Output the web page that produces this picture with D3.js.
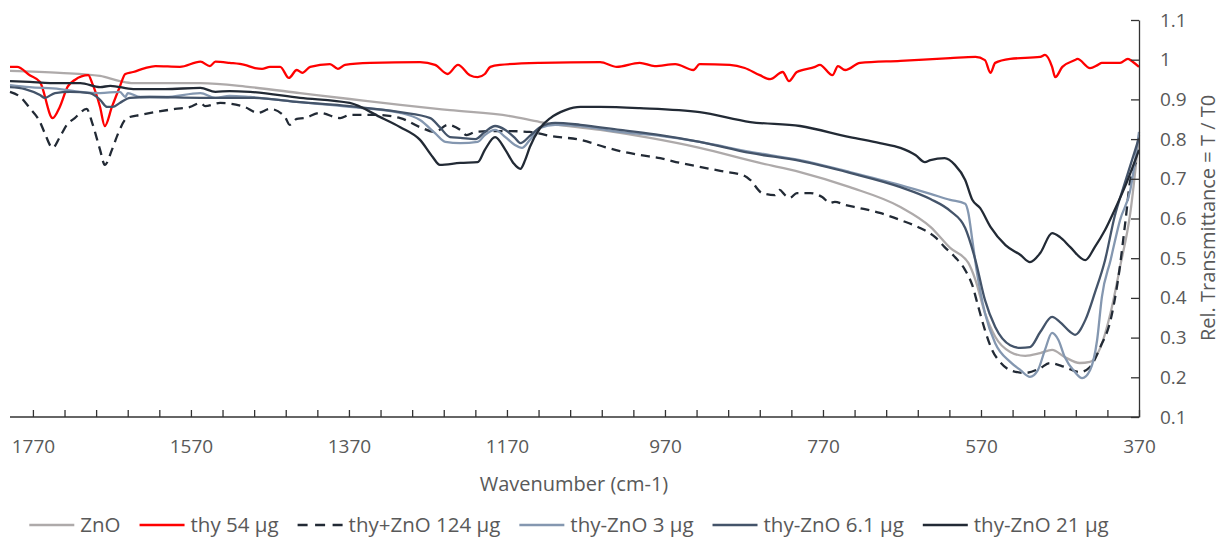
<!DOCTYPE html>
<meta charset="utf-8">
<script src="https://d3js.org/d3.v7.min.js"></script>
<style>
body { margin: 0; background: #fff; }
text { font-family: "Open Sans", sans-serif; fill: #595959; }
.axis path, .axis line { stroke: #333; stroke-width: 1.3px; }
.axis text { font-size: 19px; fill: #595959; }
.series { fill: none; stroke-width: 2.3px; stroke-linejoin: round; }
</style>
<svg width="1220" height="542"></svg>
<script>

// wavenumber (cm-1) / relative transmittance
var znoWn = [1799,1736,1685,1660,1643,1603,1558,1495,1432,1369,1305,1242,1166,1128,1052,989,926,850,799,736,672,634,609,586,577,565,552,533,514,495,480,464,445,432,419,406,394,381,370];
var znoT  = [0.972,0.967,0.959,0.946,0.941,0.941,0.941,0.931,0.916,0.901,0.886,0.873,0.858,0.843,0.823,0.803,0.778,0.740,0.717,0.679,0.629,0.579,0.526,0.488,0.445,0.362,0.302,0.264,0.254,0.261,0.269,0.251,0.236,0.239,0.274,0.362,0.478,0.614,0.810];

var thyWn = [1799,1790,1774,1761,1745,1736,1726,1717,1700,1695,1685,1679,1670,1660,1653,1643,1628,1615,1584,1558,1546,1539,1521,1502,1489,1480,1470,1457,1446,1436,1429,1419,1394,1384,1375,1343,1280,1261,1245,1232,1217,1207,1198,1191,1179,1128,1052,1031,1002,983,957,934,926,888,869,850,837,821,813,803,780,774,758,751,742,723,672,609,577,565,558,552,533,495,489,480,476,467,451,448,432,422,417,394,384,378,370];
var thyT  = [0.982,0.982,0.961,0.944,0.853,0.881,0.932,0.949,0.961,0.941,0.881,0.833,0.881,0.932,0.964,0.969,0.979,0.984,0.982,0.995,0.984,0.995,0.992,0.987,0.979,0.977,0.982,0.982,0.954,0.974,0.967,0.982,0.989,0.977,0.987,0.992,0.994,0.987,0.964,0.987,0.961,0.956,0.964,0.982,0.987,0.992,0.994,0.982,0.992,0.984,0.989,0.974,0.989,0.987,0.979,0.961,0.951,0.969,0.946,0.969,0.982,0.987,0.961,0.984,0.974,0.992,0.997,1.004,1.007,0.999,0.967,0.992,1.002,1.007,1.012,0.982,0.956,0.982,0.999,1.002,0.979,0.987,0.992,0.992,1.002,0.995,0.982];

var mixWn = [1799,1786,1774,1761,1755,1745,1736,1727,1717,1702,1695,1685,1679,1670,1662,1651,1634,1615,1590,1571,1558,1552,1533,1502,1485,1470,1451,1445,1436,1426,1407,1381,1369,1337,1305,1280,1261,1245,1229,1221,1210,1191,1166,1141,1115,1077,1046,1027,1002,976,951,926,900,869,862,847,831,825,818,812,803,786,771,761,755,742,723,698,672,647,628,616,603,590,581,574,565,556,546,533,514,495,483,464,445,432,419,406,396,387,381,370];
var mixT  = [0.919,0.906,0.878,0.843,0.815,0.778,0.805,0.836,0.853,0.876,0.841,0.773,0.735,0.773,0.815,0.853,0.861,0.868,0.876,0.881,0.891,0.883,0.891,0.881,0.866,0.876,0.856,0.836,0.851,0.853,0.866,0.853,0.861,0.861,0.853,0.830,0.818,0.836,0.823,0.810,0.818,0.820,0.820,0.818,0.808,0.798,0.780,0.770,0.760,0.752,0.740,0.730,0.720,0.707,0.697,0.664,0.659,0.672,0.659,0.652,0.664,0.664,0.654,0.639,0.642,0.634,0.626,0.614,0.596,0.576,0.553,0.528,0.503,0.470,0.432,0.382,0.319,0.269,0.239,0.218,0.211,0.223,0.236,0.226,0.213,0.226,0.276,0.344,0.453,0.596,0.697,0.752];

var c3Wn = [1799,1774,1736,1710,1685,1660,1653,1650,1634,1603,1558,1539,1521,1495,1432,1369,1305,1280,1261,1248,1229,1207,1198,1185,1172,1160,1151,1141,1128,1109,1077,1027,976,926,862,799,736,672,634,609,590,586,581,575,565,552,533,520,508,498,489,480,472,464,451,442,432,423,417,406,394,381,370];
var c3T  = [0.936,0.931,0.926,0.919,0.916,0.919,0.906,0.916,0.906,0.906,0.916,0.904,0.909,0.906,0.893,0.881,0.866,0.848,0.815,0.793,0.790,0.793,0.810,0.823,0.805,0.785,0.778,0.798,0.828,0.836,0.833,0.818,0.808,0.793,0.768,0.747,0.717,0.684,0.662,0.647,0.637,0.614,0.546,0.463,0.362,0.286,0.239,0.218,0.201,0.218,0.269,0.312,0.294,0.251,0.213,0.198,0.218,0.294,0.402,0.495,0.596,0.672,0.818];

var c6Wn = [1799,1780,1761,1755,1742,1723,1698,1685,1676,1669,1660,1647,1622,1558,1495,1432,1369,1305,1267,1255,1242,1229,1210,1198,1185,1172,1160,1153,1141,1128,1109,1077,1027,976,926,862,799,736,672,634,609,590,577,565,552,533,520,508,495,480,470,457,451,438,426,413,401,388,370];
var c6T  = [0.931,0.926,0.911,0.904,0.916,0.919,0.916,0.899,0.881,0.881,0.891,0.904,0.906,0.904,0.904,0.893,0.883,0.868,0.853,0.830,0.805,0.803,0.800,0.818,0.833,0.823,0.803,0.790,0.808,0.830,0.841,0.836,0.823,0.810,0.793,0.765,0.745,0.715,0.679,0.649,0.619,0.576,0.495,0.395,0.327,0.281,0.274,0.276,0.314,0.352,0.339,0.314,0.307,0.344,0.412,0.495,0.604,0.689,0.803];

var c21Wn = [1799,1774,1748,1710,1685,1672,1643,1603,1558,1539,1521,1495,1432,1369,1331,1305,1280,1264,1255,1229,1207,1198,1185,1172,1162,1153,1147,1141,1128,1115,1096,1077,1052,1002,926,862,799,736,698,672,653,641,634,616,603,590,581,571,558,539,520,508,495,480,470,457,438,426,413,401,388,370];
var c21T  = [0.946,0.944,0.941,0.941,0.931,0.934,0.926,0.926,0.929,0.919,0.921,0.919,0.904,0.891,0.856,0.830,0.798,0.755,0.735,0.740,0.742,0.773,0.805,0.773,0.740,0.725,0.747,0.780,0.828,0.853,0.873,0.881,0.881,0.878,0.868,0.843,0.833,0.805,0.790,0.778,0.760,0.742,0.747,0.752,0.735,0.697,0.647,0.626,0.579,0.533,0.508,0.490,0.513,0.563,0.553,0.528,0.495,0.528,0.571,0.621,0.679,0.773];

var seriesNames = ["ZnO", "thy 54 µg", "thy+ZnO 124 µg", "thy-ZnO 3 µg", "thy-ZnO 6.1 µg", "thy-ZnO 21 µg"];
var seriesColors = ["#aeaaaa", "#ff0000", "#222a35", "#8497b0", "#44546a", "#222a35"];
var seriesDash = [null, null, "9,6", null, null, null];

var xTicks = d3.range(370, 1771, 40);
var xLabels = [370, 570, 770, 970, 1170, 1370, 1570, 1770];
var yTicks = d3.range(1, 12).map(function(i) { return i / 10; });

var wn = [znoWn, thyWn, mixWn, c3Wn, c6Wn, c21Wn];
var tr = [znoT, thyT, mixT, c3T, c6T, c21T];

var svg = d3.select("svg");

var x = d3.scaleLinear().domain([1799, 370]).range([10, 1139]);
var y = d3.scaleLinear().domain([0.1, 1.1]).range([417, 20]);

var line = d3.line()
    .x(function(d) { return x(d[0]); })
    .y(function(d) { return y(d[1]); })
    .curve(d3.curveMonotoneX);

wn.forEach(function(w, i) {
  var pts = w.map(function(v, j) { return [v, tr[i][j]]; });
  svg.append("path")
      .attr("class", "series")
      .attr("d", line(pts))
      .attr("stroke", seriesColors[i])
      .attr("stroke-dasharray", seriesDash[i]);
});

// x axis, ticks pointing up
var gx = svg.append("g")
    .attr("class", "axis")
    .attr("transform", "translate(0," + y(0.1) + ")")
    .call(d3.axisBottom(x)
      .tickValues(xTicks)
      .tickSizeInner(-7)
      .tickSizeOuter(0)
      .tickPadding(23)
      .tickFormat(function(d) { return xLabels.indexOf(d) >= 0 ? d : ""; }));
gx.select(".domain").attr("d", "M10,0H" + x(370));

// y axis on the right, ticks pointing left
var gy = svg.append("g")
    .attr("class", "axis")
    .attr("transform", "translate(" + x(370) + ",0)")
    .call(d3.axisRight(y)
      .tickValues(yTicks)
      .tickSizeInner(-8)
      .tickSizeOuter(0)
      .tickPadding(21)
      .tickFormat(function(d) { return +d.toFixed(1); }));

svg.append("text")
    .attr("x", 574)
    .attr("y", 491)
    .attr("text-anchor", "middle")
    .style("font-size", "20px")
    .text("Wavenumber (cm-1)");

svg.append("text")
    .attr("transform", "translate(1215,218) rotate(-90)")
    .attr("text-anchor", "middle")
    .style("font-size", "20px")
    .text("Rel. Transmittance = T / T0");

// legend, laid out left to right
var legend = svg.append("g").attr("transform", "translate(0,525)");
var items = legend.selectAll("g").data(seriesNames).enter().append("g");
items.append("line")
    .attr("x1", 0).attr("x2", 45)
    .attr("stroke", function(d, i) { return seriesColors[i]; })
    .attr("stroke-width", 2.3)
    .attr("stroke-dasharray", function(d, i) { return seriesDash[i] ? "10,7.5" : null; });
items.append("text")
    .attr("x", 51)
    .attr("dy", "0.35em")
    .style("font-size", "20.5px")
    .text(function(d) { return d; });

var widths = [];
items.each(function() { widths.push(this.getBBox().width); });
var total = d3.sum(widths) + 19 * (widths.length - 1);
var pos = 569 - total / 2;
items.attr("transform", function(d, i) {
  var p = pos;
  pos += widths[i] + 19;
  return "translate(" + p + ",0)";
});

</script>
